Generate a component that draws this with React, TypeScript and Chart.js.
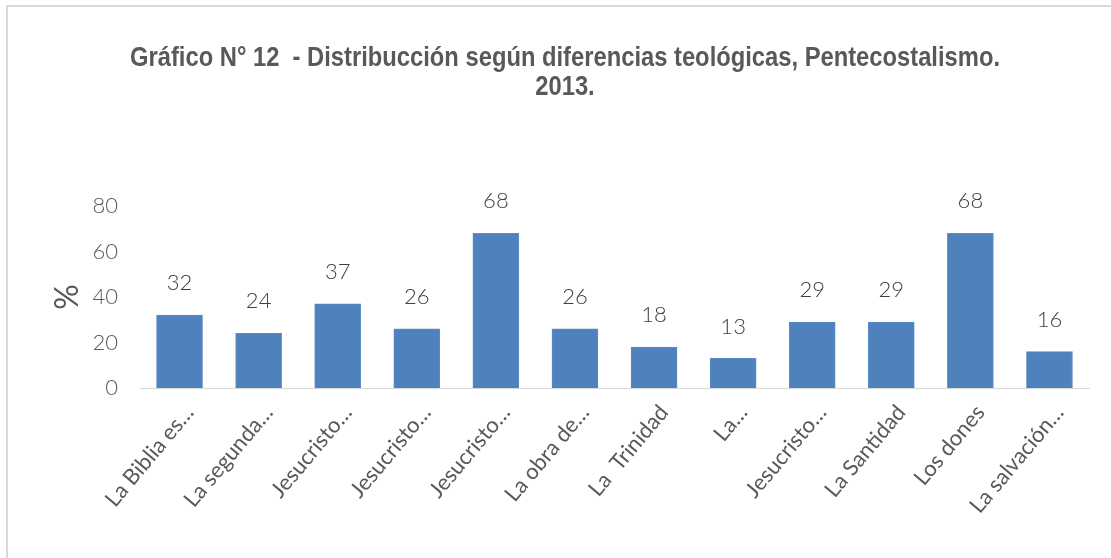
import React, { useEffect, useRef } from "react";
import { Chart, registerables } from "chart.js";

Chart.register(...registerables);

const categories = [
  "La Biblia es…",
  "La segunda…",
  "Jesucristo…",
  "Jesucristo…",
  "Jesucristo…",
  "La obra de…",
  "La  Trinidad",
  "La…",
  "Jesucristo…",
  "La Santidad",
  "Los dones",
  "La salvación…",
];
const values = [32, 24, 37, 26, 68, 26, 18, 13, 29, 29, 68, 16];
const yTicks = [0, 20, 40, 60, 80];
const titleLines = [
  "Gráfico N° 12  - Distribucción según diferencias teológicas, Pentecostalismo.",
  "2013.",
];

const labelPlugin = {
  id: "barLabels",
  afterDatasetsDraw(chart: any) {
    const ctx = chart.ctx;
    const meta = chart.getDatasetMeta(0);
    ctx.save();
    ctx.font = "300 22px Lato, 'Open Sans', sans-serif";
    ctx.fillStyle = "#404040";
    ctx.textAlign = "center";
    ctx.textBaseline = "middle";
    meta.data.forEach((bar: any, i: number) => {
      ctx.fillText(String(values[i]), bar.x, bar.y - 32);
    });
    ctx.restore();
  },
};

// Condensed bold title, drawn as real text on the canvas
const titlePlugin = {
  id: "condensedTitle",
  afterDraw(chart: any) {
    const ctx = chart.ctx;
    ctx.save();
    ctx.font = "bold 27px 'Liberation Sans', Arial, sans-serif";
    ctx.fillStyle = "#595959";
    ctx.textBaseline = "alphabetic";
    ctx.textAlign = "left";
    const w1 = ctx.measureText(titleLines[0]).width;
    const sx = 870 / w1;
    const cx = 557;
    const baselines = [58, 87];
    titleLines.forEach((line, i) => {
      const w = ctx.measureText(line).width * sx;
      ctx.save();
      ctx.translate(cx - w / 2, baselines[i]);
      ctx.scale(sx, 1);
      ctx.fillText(line, 0, 0);
      ctx.restore();
    });
    ctx.restore();
  },
};

export default function App() {
  const ref = useRef<HTMLCanvasElement>(null);
  useEffect(() => {
    if (!ref.current) return;
    const chart = new Chart(ref.current, {
      type: "bar",
      data: {
        labels: categories,
        datasets: [
          {
            data: values,
            backgroundColor: "#4f81bd",
            borderColor: "#5b8cc6",
            borderWidth: 1,
            barThickness: 46,
          },
        ],
      },
      options: {
        animation: false,
        responsive: false,
        maintainAspectRatio: false,
        layout: { padding: { left: 0, right: 22, top: 198, bottom: 0 } },
        plugins: {
          legend: { display: false },
          tooltip: { enabled: false },
          title: { display: false },
        },
        scales: {
          x: {
            grid: { display: false, drawTicks: false },
            border: { display: true, color: "#d9d9d9", width: 1 },
            ticks: {
              color: "#595959",
              font: { family: "Lato, 'Open Sans', sans-serif", size: 22, weight: "400" },
              minRotation: 50,
              maxRotation: 50,
              autoSkip: false,
              padding: 12,
              labelOffset: 10,
            },
            afterFit: (s: any) => {
              s.height = 170;
            },
          },
          y: {
            min: 0,
            max: 80,
            afterBuildTicks: (s: any) => {
              s.ticks = yTicks.map((v) => ({ value: v }));
            },
            grid: { display: false, drawTicks: false },
            border: { display: false },
            ticks: {
              color: "#595959",
              font: { family: "Lato, 'Open Sans', sans-serif", size: 22, weight: "300" },
              padding: 22,
            },
            title: {
              display: true,
              text: "%",
              color: "#595959",
              font: { family: "Lato, 'Open Sans', sans-serif", size: 32 },
              padding: { top: 40, bottom: 0 },
            },
            afterFit: (s: any) => {
              s.width = 132;
            },
          },
        },
      },
      plugins: [labelPlugin, titlePlugin],
    });
    return () => chart.destroy();
  }, []);
  return (
    <div
      style={{
        position: "absolute",
        left: 6,
        top: 5,
        width: 1105,
        height: 553,
        borderTop: "2px solid #d9d9d9",
        borderLeft: "2px solid #d9d9d9",
        boxSizing: "border-box",
        background: "#fff",
      }}
    >
      <canvas
        ref={ref}
        width={1103}
        height={550}
        style={{ position: "absolute", left: 0, top: 1 }}
      />
    </div>
  );
}
